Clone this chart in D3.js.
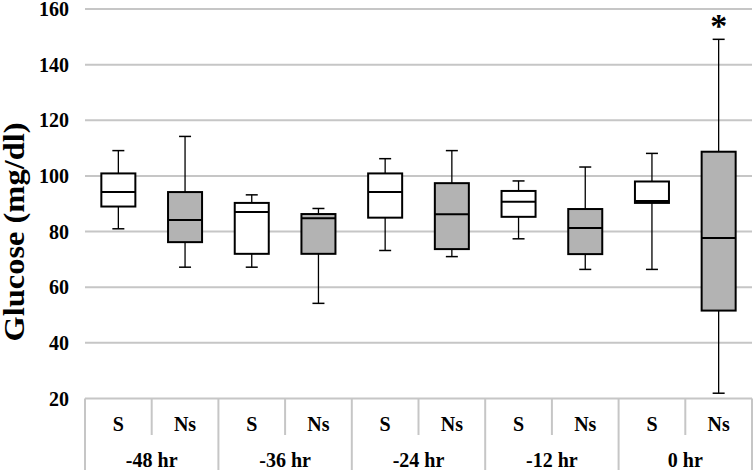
<!DOCTYPE html>
<html><head><meta charset="utf-8">
<script src="https://cdn.jsdelivr.net/npm/d3@7"></script>
<style>body{margin:0;background:#fff}svg{display:block}</style>
</head><body>
<script>
const groups = ["-48 hr","-36 hr","-24 hr","-12 hr","0 hr"];
const subs = ["S","Ns"];
const whiskerLow  = [81, 67.2, 67.2, 54.2, 73.2, 71.0, 77.4, 66.4, 66.4, 21.9];
const q1          = [89.0, 76.2, 72.0, 72.0, 85.0, 73.7, 85.3, 71.9, 90.3, 51.6];
const median      = [94.2, 84.2, 87.0, 84.8, 94.2, 86.2, 90.7, 81.3, 91.0, 77.7];
const q3          = [100.9, 94.2, 90.3, 86.3, 100.9, 97.4, 94.6, 88.1, 98.0, 108.7];
const whiskerHigh = [109.1, 114.2, 93.2, 88.3, 106.2, 109.1, 98.2, 103.2, 108.1, 149.1];
const yTicks = [20,40,60,80,100,120,140,160];
const fills = {"S":"#ffffff","Ns":"#b3b3b3"};
const sigIndex = 9, sigMark = "*";

const W=756,H=470;
const svg=d3.select("body").append("svg").attr("width",W).attr("height",H);
const font="'Liberation Serif','Times New Roman',serif";
const x0=85,x1=752,yTop=9,yBot=398.5;
const keys=[];groups.forEach(g=>subs.forEach(s=>keys.push(g+"|"+s)));
const x=d3.scaleBand().domain(keys).range([x0,x1]);
const y=d3.scaleLinear().domain([20,160]).range([yBot,yTop]);

// gridlines
svg.append("g").selectAll("line").data(yTicks).join("line")
 .attr("x1",x0).attr("x2",x1).attr("y1",d=>y(d)).attr("y2",d=>y(d))
 .attr("stroke","#c6c6c6").attr("stroke-width",2);
// y labels
svg.append("g").selectAll("text").data(yTicks).join("text")
 .attr("x",69).attr("y",d=>y(d)).attr("dy","0.35em").attr("text-anchor","end")
 .attr("font-family",font).attr("font-weight","bold").attr("font-size",20).text(d=>d);
// y title
svg.append("text").attr("transform","translate(24,232) rotate(-90) scale(1.12,1)").attr("text-anchor","middle")
 .attr("font-family",font).attr("font-weight","bold").attr("font-size",29).text("Glucose (mg/dl)");

// category axis
const ax=svg.append("g").attr("stroke","#c6c6c6").attr("stroke-width",2);
keys.forEach((k,i)=>{
  const xl=x(k);
  const isGroup = i%2===0;
  ax.append("line").attr("x1",xl).attr("x2",xl).attr("y1",yBot).attr("y2",isGroup?H:435);
});
ax.append("line").attr("x1",x1).attr("x2",x1).attr("y1",yBot).attr("y2",H);
svg.append("g").selectAll("text").data(keys).join("text")
 .attr("x",d=>x(d)+x.bandwidth()/2).attr("y",431).attr("text-anchor","middle")
 .attr("font-family",font).attr("font-weight","bold").attr("font-size",20).text(d=>d.split("|")[1]);
svg.append("g").selectAll("text").data(groups).join("text")
 .attr("x",g=>x(g+"|S")+x.bandwidth()).attr("y",467).attr("text-anchor","middle")
 .attr("font-family",font).attr("font-weight","bold").attr("font-size",20).text(g=>g);

// boxes
const bw=x.bandwidth()*0.51, cap=12;
keys.forEach((k,i)=>{
  const cx=x(k)+x.bandwidth()/2;
  const g=svg.append("g");
  g.append("line").attr("x1",cx).attr("x2",cx).attr("y1",y(whiskerHigh[i])).attr("y2",y(q3[i])).attr("stroke","#000").attr("stroke-width",1.3);
  g.append("line").attr("x1",cx).attr("x2",cx).attr("y1",y(q1[i])).attr("y2",y(whiskerLow[i])).attr("stroke","#000").attr("stroke-width",1.3);
  g.append("line").attr("x1",cx-cap/2).attr("x2",cx+cap/2).attr("y1",y(whiskerHigh[i])).attr("y2",y(whiskerHigh[i])).attr("stroke","#000").attr("stroke-width",1.5);
  g.append("line").attr("x1",cx-cap/2).attr("x2",cx+cap/2).attr("y1",y(whiskerLow[i])).attr("y2",y(whiskerLow[i])).attr("stroke","#000").attr("stroke-width",1.5);
  g.append("rect").attr("x",cx-bw/2).attr("width",bw).attr("y",y(q3[i])).attr("height",y(q1[i])-y(q3[i]))
   .attr("fill",fills[k.split("|")[1]]).attr("stroke","#000").attr("stroke-width",2);
  g.append("line").attr("x1",cx-bw/2).attr("x2",cx+bw/2).attr("y1",y(median[i])).attr("y2",y(median[i])).attr("stroke","#000").attr("stroke-width",2);
});
// significance
const sk=keys[sigIndex];
svg.append("text").attr("x",x(sk)+x.bandwidth()/2).attr("y",y(whiskerHigh[sigIndex])-2).attr("text-anchor","middle")
 .attr("font-family",font).attr("font-weight","bold").attr("font-size",34).text(sigMark);
</script>
</body></html>
